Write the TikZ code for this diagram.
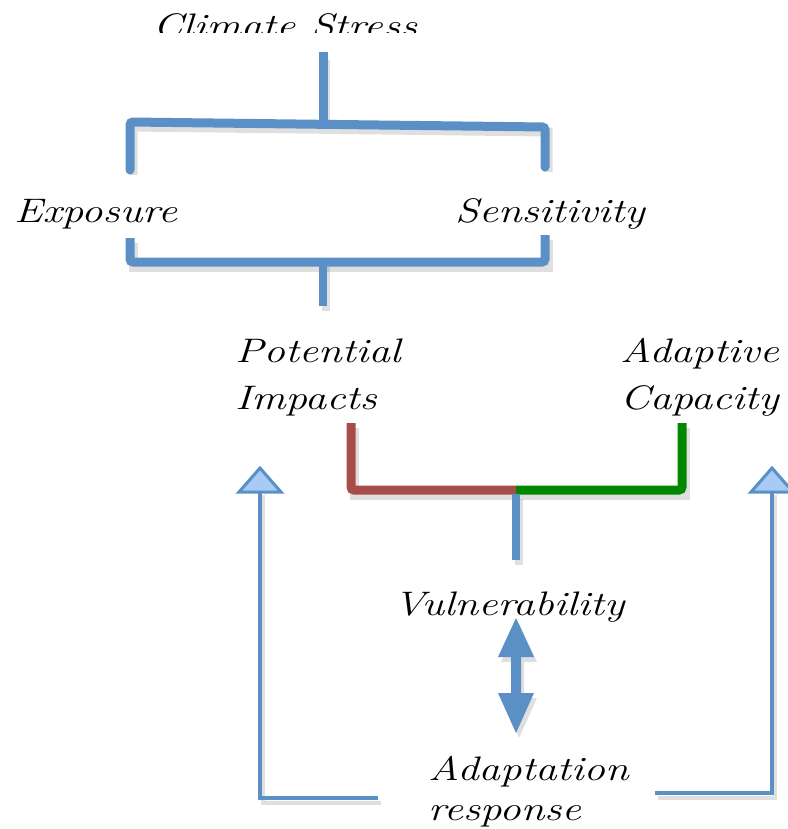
\documentclass[tikz,border=0pt]{standalone}
\usetikzlibrary{calc}
\definecolor{cblue}{RGB}{91,144,198}
\definecolor{cltblue}{RGB}{168,203,245}
\definecolor{cred}{RGB}{166,77,74}
\definecolor{cgreen}{RGB}{0,136,0}
\newcommand{\wtxt}[1]{\scalebox{1.26}[1]{#1}}
\tikzset{
  lbl/.style={inner sep=0pt, anchor=base west, font=\fontsize{34}{40}\selectfont\itshape},
  bar/.style={line width=9pt, rounded corners=3pt, line cap=round},
  thin/.style={line width=4pt, cblue},
  shad/.style={gray, opacity=0.25, line width=9pt},
}
\begin{document}
\begin{tikzpicture}[x=1pt,y=-1pt]
\useasboundingbox (0,0) rectangle (787,829);
% Climate Stress (clipped)
\begin{scope}
\clip (0,0) rectangle (787,33);
\node[lbl, anchor=base] (cs) at (285,38) {\wtxt{Climate Stress}};
\end{scope}
\node[lbl] (exp) at (14,222) {\wtxt{Exposure}};
\node[lbl] (sen) at (455,222) {\wtxt{Sensitivity}};
\node[lbl] (pot) at (235,362) {\wtxt{Potential}};
\node[lbl] (imp) at (235,409) {\wtxt{Impacts}};
\node[lbl] (ada) at (620,362) {\wtxt{Adaptive}};
\node[lbl] (cap) at (620,409) {\wtxt{Capacity}};
\node[lbl, anchor=base] (vul) at (509,615) {\wtxt{Vulnerability}};
\node[lbl] (adr) at (428,780) {\wtxt{Adaptation}};
\node[lbl] (res) at (428,820) {\wtxt{response}};
% coordinates
\coordinate (s1t) at (323,52);
\coordinate (s1b) at (323,122);
\coordinate (b1l) at (130,122);
\coordinate (b1r) at (545,127);
% shadows
\begin{scope}[shift={(3,5)}]
\draw[shad] (130,170) -- (130,122) -- (545,127) -- (545,167);
\draw[shad, line width=8pt] (323,55) -- (323,122);
\draw[shad] (130,238) -- (130,262) -- (545,262) -- (545,235);
\draw[shad, line width=8pt] (323,262) -- (323,306);
\draw[shad] (351,423) -- (351,490) -- (682,490) -- (682,423);
\draw[shad, line width=8pt] (516,494) -- (516,560);
\draw[shad, line width=4pt] (378,798) -- (260,798) -- (260,490);
\draw[shad, line width=4pt] (655,793) -- (772,793) -- (772,490);
\fill[gray, opacity=0.25] (516,618) -- (534,657) -- (521,657) -- (521,693) -- (534,693) -- (516,733) -- (498,693) -- (511,693) -- (511,657) -- (498,657) -- cycle;
\end{scope}
% first bracket
\draw[bar, cblue, line cap=butt] (s1t) -- (s1b);
\draw[bar, cblue] (130,170) -- (b1l) -- (b1r) -- (545,167);
% second bracket
\draw[bar, cblue, line cap=butt] (130,238) -- (130,262) -- (545,262) -- (545,235);
\draw[cblue, line width=8pt] (323,262) -- (323,306);
% red / green
\draw[bar, cred, line cap=butt] (351,423) -- (351,490) -- (516,490);
\draw[bar, cgreen, line cap=butt] (516,490) -- (682,490) -- (682,423);
\draw[cblue, line width=8pt] (516,494) -- (516,560);
% double arrow
\fill[cblue] (516,618) -- (534,657) -- (521,657) -- (521,693) -- (534,693) -- (516,733) -- (498,693) -- (511,693) -- (511,657) -- (498,657) -- cycle;
% feedback lines
\draw[thin] (378,798) -- (260,798) -- (260,490);
\draw[thin] (655,793) -- (772,793) -- (772,490);
\filldraw[fill=cltblue, draw=cblue, line width=3pt, line join=miter] (260,468) -- (281,492) -- (239,492) -- cycle;
\filldraw[fill=cltblue, draw=cblue, line width=3pt, line join=miter] (772,468) -- (793,492) -- (751,492) -- cycle;
\end{tikzpicture}
\end{document}
